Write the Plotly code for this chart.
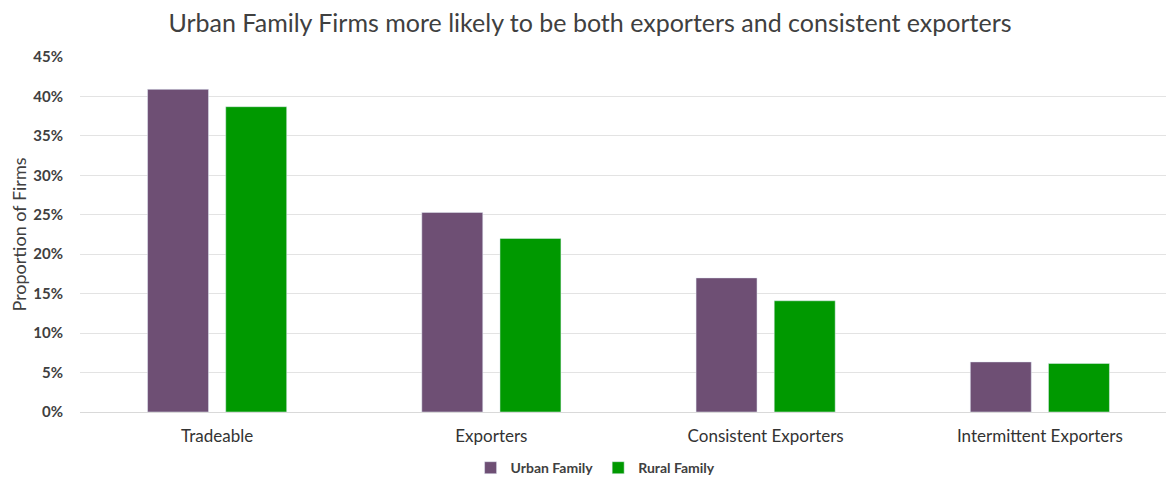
import plotly.graph_objects as go

categories = ["Tradeable", "Exporters", "Consistent Exporters", "Intermittent Exporters"]
urban_family = [0.409, 0.253, 0.170, 0.0635]
rural_family = [0.387, 0.220, 0.141, 0.0615]
tick_vals = [0, 0.05, 0.10, 0.15, 0.20, 0.25, 0.30, 0.35, 0.40, 0.45]
tick_text = ["0%", "5%", "10%", "15%", "20%", "25%", "30%", "35%", "40%", "45%"]

font_family = "Lato, Open Sans, sans-serif"

fig = go.Figure()
fig.add_trace(go.Bar(name="Urban Family", x=categories, y=urban_family, marker_color="#6E4F74"))
fig.add_trace(go.Bar(name="Rural Family", x=categories, y=rural_family, marker_color="#009900"))

fig.update_layout(
    width=1174, height=477,
    barmode="group", bargap=0.43, bargroupgap=0.22,
    paper_bgcolor="white", plot_bgcolor="white",
    margin=dict(l=72, r=5, t=49, b=73, autoexpand=False),
    title=dict(text="Urban Family Firms more likely to be both exporters and consistent exporters",
               x=582 / 1174, xanchor="center", xref="container", y=1 - 15 / 477, yanchor="middle",
               font=dict(family=font_family, size=25, color="#404040")),
    font=dict(family=font_family, color="#404040", size=14),
    legend=dict(orientation="h", x=0.47, xanchor="center", y=-0.158, yanchor="middle",
                font=dict(size=14, color="#404040", weight="bold"), itemwidth=30, traceorder="normal"),
    xaxis=dict(showgrid=False, showline=True, linecolor="#d9d9d9", linewidth=1,
               ticklabelstandoff=9,
               tickfont=dict(size=17, color="#333333"), ticks=""),
    yaxis=dict(range=[0, 0.45], tickvals=tick_vals, ticktext=tick_text,
               showgrid=True, gridcolor="#e3e3e3", gridwidth=1, zeroline=False,
               ticklabelstandoff=16,
               tickfont=dict(size=15, color="#404040", weight="bold"),
               title=dict(text="Proportion of Firms", font=dict(size=18, color="#404040"), standoff=4)),
)

fig.write_html("out.html")
